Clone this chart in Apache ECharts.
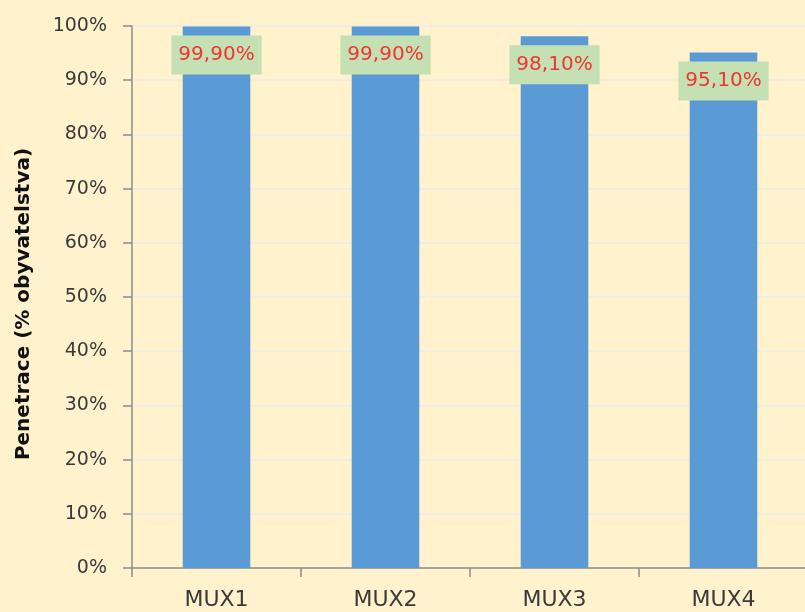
<!DOCTYPE html>
<html>
<head>
<meta charset="utf-8">
<script src="https://cdn.jsdelivr.net/npm/echarts@6/dist/echarts.min.js"></script>
<style>
  html, body { margin: 0; padding: 0; background: #fff2cc; }
  #chart { width: 805px; height: 612px; }
</style>
</head>
<body>
<div id="chart"></div>
<script>
// Data
const categories = ['MUX1', 'MUX2', 'MUX3', 'MUX4'];
const penetration = [99.9, 99.9, 98.1, 95.1];
const yTicks = [0, 10, 20, 30, 40, 50, 60, 70, 80, 90, 100];

const FONT = 'DejaVu Sans';
const chart = echarts.init(document.getElementById('chart'));

const option = {
    backgroundColor: '#fff2cc',
    animation: false,
    grid: { left: 132, right: -3, top: 26, bottom: 44, outerBoundsMode: 'none', containLabel: false },
    xAxis: {
        type: 'category',
        data: categories,
        axisLine: { lineStyle: { color: '#8c8c8c', width: 1.5 } },
        axisTick: { show: true, length: 9, lineStyle: { color: '#8c8c8c', width: 1.5 } },
        axisLabel: { color: '#3a3a3a', fontSize: 22, margin: 21, fontFamily: FONT }
    },
    yAxis: {
        type: 'value',
        min: yTicks[0],
        max: yTicks[yTicks.length - 1],
        interval: 10,
        name: 'Penetrace (% obyvatelstva)',
        nameLocation: 'middle',
        nameGap: 98,
        nameTextStyle: { color: '#111', fontSize: 20, fontWeight: 'bold', fontFamily: FONT, padding: [0, 14, 0, 0] },
        axisLine: { show: true, lineStyle: { color: '#8c8c8c', width: 1.5 } },
        axisTick: { show: true, length: 9, lineStyle: { color: '#8c8c8c', width: 1.5 } },
        axisLabel: { color: '#3a3a3a', fontSize: 19, margin: 25, fontFamily: FONT, formatter: '{value}%' },
        splitLine: { lineStyle: { color: '#f1ede3', width: 2 } }
    },
    series: [{
        type: 'bar',
        data: penetration,
        barWidth: '40%',
        itemStyle: { color: '#5b9bd5' },
        label: {
            show: true,
            position: 'insideTop',
            distance: 9,
            color: '#ef3535',
            fontSize: 20,
            lineHeight: 25,
            fontFamily: FONT,
            backgroundColor: '#c5e0b3',
            padding: [7, 7, 7, 7],
            formatter: p => p.value.toFixed(2).replace('.', ',') + '%'
        }
    }]
};

chart.setOption(option);
</script>
</body>
</html>
